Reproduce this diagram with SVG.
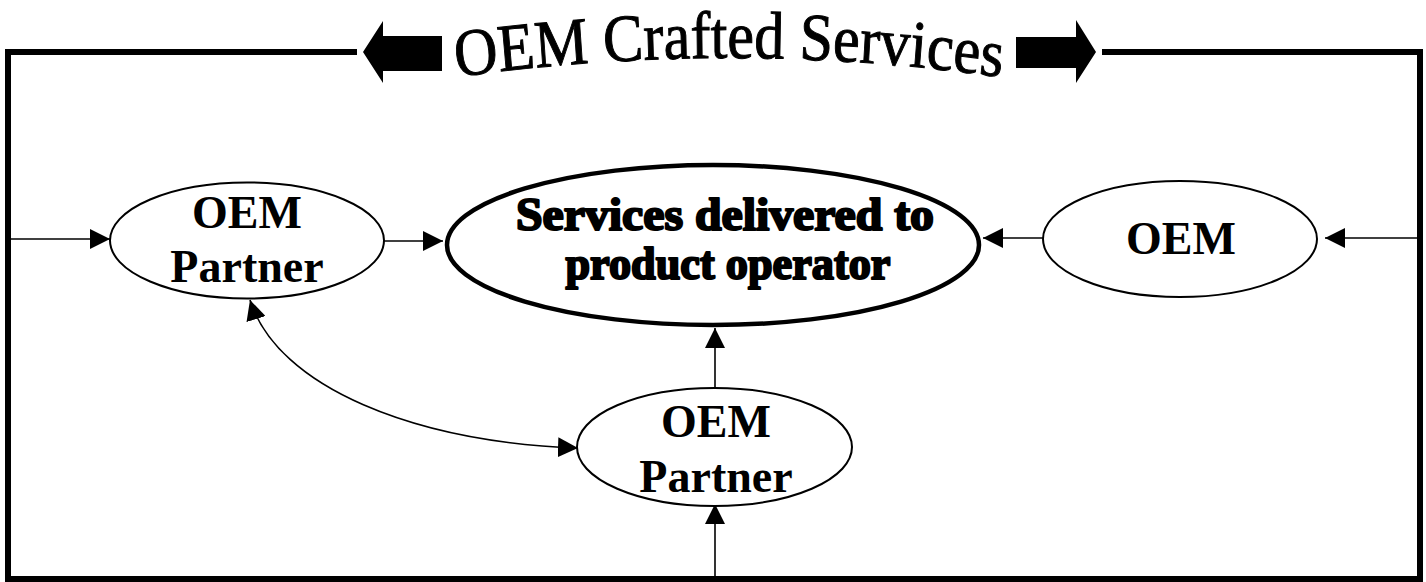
<svg xmlns="http://www.w3.org/2000/svg" width="1426" height="582" viewBox="0 0 1426 582">
  <style>
    .node { fill: #ffffff; stroke: #000000; stroke-width: 2; }
    .main { fill: #ffffff; stroke: #000000; stroke-width: 4.5; }
    .label { font-family: "Liberation Serif", "Times New Roman", serif; font-weight: bold; font-size: 46px; fill: #000000; text-anchor: middle; }
    .heavy { stroke: #000000; stroke-width: 2.2; stroke-linejoin: round; }
    .edge { fill: none; stroke: #000000; stroke-width: 1.6; }
    .title { font-family: "Liberation Serif", "Times New Roman", serif; font-size: 60px; fill: #000000; stroke: #000000; stroke-width: 0.9; }
  </style>
  <defs>
    <marker id="arrow" markerUnits="userSpaceOnUse" markerWidth="22" markerHeight="20" refX="20" refY="10" orient="auto-start-reverse">
      <path d="M0,0 L20,10 L0,20 Z" fill="#000000"/>
    </marker>
    <!-- baseline arc for the banner title (drawn inside a 1.12 vertical stretch) -->
    <path id="titleArc" d="M429,72.6 A1950,1750 0 0 1 1029,72.6"/>
  </defs>

  <rect width="1426" height="582" fill="#ffffff"/>

  <!-- outer frame, open at the top for the title -->
  <path d="M357,52 H8 V579 H1420 V52 H1102" fill="none" stroke="#000000" stroke-width="6" stroke-linejoin="miter"/>

  <!-- title banner -->
  <g id="title">
    <polygon points="363,52 383,21 383,36 442,36 442,71 383,71 383,83" fill="#000000"/>
    <polygon points="1096,52 1076,20 1076,37 1016,37 1016,68 1076,68 1076,83" fill="#000000"/>
    <g transform="scale(1,1.12)">
      <text class="title"><textPath href="#titleArc" startOffset="50%" text-anchor="middle">OEM Crafted Services</textPath></text>
    </g>
  </g>

  <!-- connectors -->
  <g id="connectors">
    <line class="edge" x1="11" y1="239" x2="110" y2="239" marker-end="url(#arrow)"/>
    <line class="edge" x1="384" y1="241" x2="443" y2="241" marker-end="url(#arrow)"/>
    <line class="edge" x1="1043" y1="238" x2="983" y2="238" marker-end="url(#arrow)"/>
    <line class="edge" x1="1417" y1="238" x2="1325" y2="238" marker-end="url(#arrow)"/>
    <line class="edge" x1="715" y1="388" x2="715" y2="328" marker-end="url(#arrow)"/>
    <line class="edge" x1="715" y1="576" x2="715" y2="504" marker-end="url(#arrow)"/>
    <path class="edge" d="M250,300 C278,388 415,442 578,448" marker-start="url(#arrow)" marker-end="url(#arrow)"/>
  </g>

  <g id="oem-partner-left">
    <ellipse class="node" cx="247" cy="240.5" rx="137" ry="58"/>
    <text class="label" x="247" y="228">OEM</text>
    <text class="label" x="247" y="282">Partner</text>
  </g>

  <g id="services">
    <ellipse class="main" cx="713" cy="245" rx="266" ry="80"/>
    <text class="label heavy" x="725" y="230" textLength="418" lengthAdjust="spacingAndGlyphs">Services delivered to</text>
    <text class="label heavy" x="728" y="279" textLength="325" lengthAdjust="spacingAndGlyphs">product operator</text>
  </g>

  <g id="oem">
    <ellipse class="node" cx="1180" cy="239" rx="137" ry="58"/>
    <text class="label" x="1181" y="254">OEM</text>
  </g>

  <g id="oem-partner-bottom">
    <ellipse class="node" cx="714.5" cy="447" rx="137.5" ry="59"/>
    <text class="label" x="716" y="437">OEM</text>
    <text class="label" x="716" y="492">Partner</text>
  </g>
</svg>
